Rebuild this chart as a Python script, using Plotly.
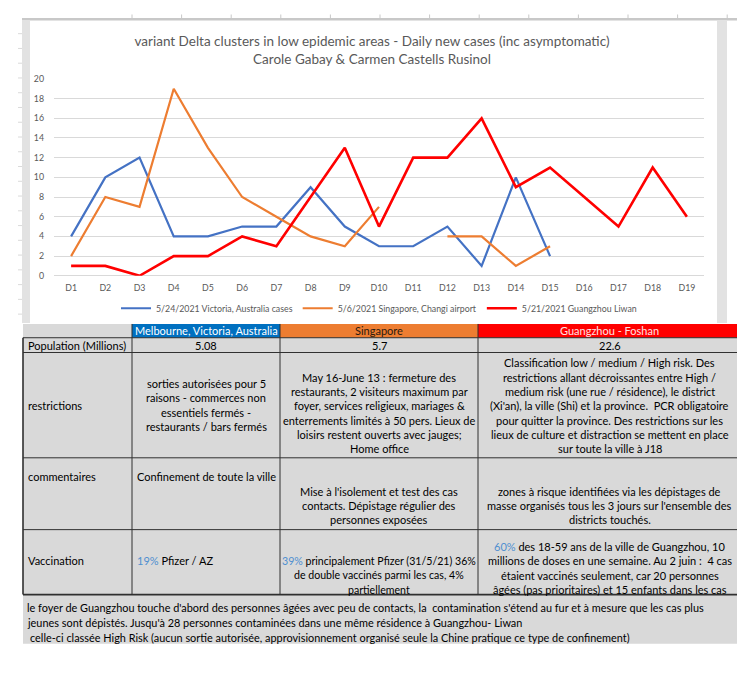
import plotly.graph_objects as go

# reference picture size and the page's default 8px body margin
REF_W, REF_H = 745, 697
OFF = 8
W, H = REF_W - OFF, REF_H - OFF

# ---------------- data ----------------
days = ["D1", "D2", "D3", "D4", "D5", "D6", "D7", "D8", "D9", "D10",
        "D11", "D12", "D13", "D14", "D15", "D16", "D17", "D18", "D19"]
victoria = [4, 10, 12, 4, 4, 5, 5, 9, 5, 3, 3, 5, 1, 10, 2, None, None, None, None]
singapore = [2, 8, 7, 19, 13, 8, 6, 4, 3, 7, None, 4, 4, 1, 3, None, None, None, None]
guangzhou = [1, 1, 0, 2, 2, 4, 3, 8, 13, 5, 12, 12, 16, 9, 11, 8, 5, 11, 6]
series_names = ["5/24/2021 Victoria, Australia cases",
                "5/6/2021 Singapore, Changi airport",
                "5/21/2021 Guangzhou Liwan"]
y_tickvals = [0, 2, 4, 6, 8, 10, 12, 14, 16, 18, 20]

title_lines = ["variant Delta clusters in low epidemic areas - Daily new cases (inc asymptomatic)",
               "Carole Gabay & Carmen Castells Rusinol"]

header_names = ["Melbourne, Victoria, Australia", "Singapore", "Guangzhou - Foshan"]
row_labels = ["Population (Millions)", "restrictions", "commentaires", "Vaccination"]
population = ["5.08", "5.7", "22.6"]
restrictions = [
    ["sorties autorisées pour 5", "raisons - commerces non", "essentiels fermés -",
     "restaurants / bars fermés"],
    ["May 16-June 13 : fermeture des", "restaurants, 2 visiteurs maximum par",
     "foyer, services religieux, mariages &", "enterrements limités à 50 pers. Lieux de",
     "loisirs restent ouverts avec jauges;", "Home office"],
    ["Classification low / medium / High risk. Des",
     "restrictions allant décroissantes entre High /",
     "medium risk (une rue / résidence), le district",
     "(Xi'an), la ville (Shi) et la province.  PCR obligatoire",
     "pour quitter la province. Des restrictions sur les",
     "lieux de culture et distraction se mettent en place",
     "sur toute la ville à J18"],
]
commentaires = [
    ["Confinement de toute la ville"],
    ["Mise à l'isolement et test des cas", "contacts. Dépistage régulier des",
     "personnes exposées"],
    ["zones à risque identifiées via les dépistages de",
     "masse organisés tous les 3 jours sur l'ensemble des",
     "districts touchés."],
]
PCT = "<span style='color:#4F8FD0'>{}</span>"
vaccination = [
    [PCT.format("19%") + " Pfizer / AZ"],
    [PCT.format("39%") + " principalement Pfizer (31/5/21) 36%",
     "de double vaccinés parmi les cas, 4%", "partiellement"],
    [PCT.format("60%") + " des 18-59 ans de la ville de Guangzhou, 10",
     "millions de doses en une semaine. Au 2 juin :  4 cas",
     "étaient vaccinés seulement, car 20 personnes",
     "âgées (pas prioritaires) et 15 enfants dans les cas"],
]
notes = [
    "le foyer de Guangzhou touche d'abord des personnes âgées avec peu de contacts, la  contamination s'étend au fur et à mesure que les cas plus",
    "jeunes sont dépistés. Jusqu'à 28 personnes contaminées dans une même résidence à Guangzhou- Liwan",
    "celle-ci classée High Risk (aucun sortie autorisée, approvisionnement organisé seule la Chine pratique ce type de confinement)",
]

# ---------------- styling / layout constants ----------------
FONT = "Lato"
GREY_TXT = "#595959"
line_colors = ["#4472C4", "#ED7D31", "#FF0000"]
line_widths = [2.2, 2.2, 2.6]
header_fills = ["#0070C0", "#ED7D31", "#FF0000"]
header_text_colors = ["#FFFFFF", "#2B1A10", "#FFE3E3"]
CELL_BG = "#D9D9D9"
BORDER = "#303030"


def X(px):
    return (px - OFF) / W


def Y(py):
    return 1 - (py - OFF) / H


col_x = [23, 132, 280, 478, 741]
row_y = [323, 337, 352, 459, 532, 598]
last_line_y = {2: 450, 3: 522, 4: 593}
notes_bottom = 648
LS = 14.6    # text line spacing (px)
TFS = 11.0   # table font size
NFS = 10.9   # notes font size

fig = go.Figure()
for name, vals, c, w in zip(series_names, [victoria, singapore, guangzhou], line_colors, line_widths):
    fig.add_trace(go.Scatter(x=days, y=vals, name=name, mode="lines",
                             line=dict(color=c, width=w), connectgaps=False))

shapes = []
annotations = []


def rect(x0, y0, x1, y1, fill, layer="below"):
    shapes.append(dict(type="rect", xref="paper", yref="paper", x0=X(x0), x1=X(x1),
                       y0=Y(y1), y1=Y(y0), fillcolor=fill, line=dict(width=0), layer=layer))


def seg(x0, y0, x1, y1, color, width, layer="above"):
    shapes.append(dict(type="line", xref="paper", yref="paper", x0=X(x0), x1=X(x1),
                       y0=Y(y0), y1=Y(y1), line=dict(color=color, width=width), layer=layer))


def text(s, x, y, anchor="center", color="#000000", size=TFS):
    annotations.append(dict(text=s, x=X(x), y=Y(y), xref="paper", yref="paper",
                            xanchor=anchor, yanchor="middle", showarrow=False,
                            font=dict(family=FONT, size=size, color=color)))


# spreadsheet frame around the chart
rect(22, 12, 745, 14.5, "#C8C8C8")
for k in range(13):
    xx = 132 + 49.6 * k
    seg(xx, 8.5, xx, 13, "#C8C8C8", 1)
rect(22, 14, 30, 322, "#E2E2E2")
rect(717, 14, 727, 322, "#E2E2E2")
for yy in range(28, 322, 15):
    seg(18, yy, 22, yy, "#DADADA", 1)

# table background
rect(col_x[0], row_y[0], col_x[-1], row_y[-1], CELL_BG)
rect(col_x[0], row_y[-1], col_x[-1], notes_bottom, CELL_BG)
for i in range(3):
    rect(col_x[i + 1], row_y[0], col_x[i + 2], row_y[1], header_fills[i])

# borders
for yy in row_y[1:-1]:
    seg(col_x[0], yy, col_x[-1], yy, BORDER, 1)
seg(col_x[0], row_y[-1], col_x[-1], row_y[-1], BORDER, 1.6)
seg(col_x[0], row_y[1], col_x[0], row_y[-1], BORDER, 1.6)
for xx in col_x[1:-1]:
    seg(xx, row_y[0], xx, row_y[-1], BORDER, 1)
seg(col_x[-1], row_y[0], col_x[-1], row_y[-1], BORDER, 1.6)

centers = [(col_x[i + 1] + col_x[i + 2]) / 2 for i in range(3)]
LX = col_x[0] + 2.5

# header row
for i in range(3):
    text(header_names[i], centers[i], (row_y[0] + row_y[1]) / 2, color=header_text_colors[i])


def block(lines, x, anchor, y_first, size=TFS):
    for j, s in enumerate(lines):
        text(s, x, y_first + j * LS, anchor=anchor, size=size)


def bottom_first(lines, r):
    return last_line_y[r] - (len(lines) - 1) * LS


def middle_first(lines, r):
    return (row_y[r] + row_y[r + 1]) / 2 - (len(lines) - 1) * LS / 2


# population
yy = (row_y[1] + row_y[2]) / 2
text(row_labels[0], LX, yy, anchor="left")
for i in range(3):
    text(population[i], centers[i], yy)

# restrictions
text(row_labels[1], LX, middle_first([0], 2), anchor="left")
block(restrictions[0], centers[0], "center", middle_first(restrictions[0], 2))
for i in (1, 2):
    block(restrictions[i], centers[i], "center", bottom_first(restrictions[i], 2))

# commentaires
yc = bottom_first(commentaires[1], 3) - LS
text(row_labels[2], LX, yc, anchor="left")
block(commentaires[0], centers[0], "center", yc)
for i in (1, 2):
    block(commentaires[i], centers[i], "center", bottom_first(commentaires[i], 3))

# vaccination
yv = bottom_first(vaccination[1], 4)
text(row_labels[3], LX, yv, anchor="left")
block(vaccination[0], col_x[1] + 2.5, "left", yv)
block(vaccination[1], centers[1], "center", bottom_first(vaccination[1], 4), size=10.6)
block(vaccination[2], centers[2], "center", bottom_first(vaccination[2], 4))

# notes
for j, s in enumerate(notes):
    text(s, col_x[0] + 2 + (2.5 if j == 2 else 0), 611 + j * 15.5, anchor="left", size=NFS)

fig.update_layout(
    width=W, height=H,
    margin=dict(l=0, r=0, t=0, b=0),
    paper_bgcolor="white", plot_bgcolor="white",
    font=dict(family=FONT, color=GREY_TXT),
    title=dict(text="<br>".join(title_lines), x=X(372), xanchor="center",
               y=Y(46), yanchor="top", yref="container",
               font=dict(family=FONT, size=13.5, color=GREY_TXT)),
    xaxis=dict(domain=[X(54), X(704)], type="category", categoryorder="array",
               categoryarray=days, range=[-0.5, 18.5], showgrid=False, showline=False,
               zeroline=False, ticks="", ticklabelstandoff=5,
               tickfont=dict(family=FONT, size=8.8, color=GREY_TXT)),
    yaxis=dict(domain=[Y(274), Y(74)], range=[0, 20], tickvals=y_tickvals,
               showgrid=True, gridcolor="#D9D9D9", gridwidth=1, zeroline=True,
               zerolinecolor="#D9D9D9", zerolinewidth=1, showline=False, ticks="",
               ticklabelstandoff=9,
               tickfont=dict(family=FONT, size=8.8, color=GREY_TXT)),
    legend=dict(orientation="h", x=X(379), xanchor="center", y=Y(307), yanchor="middle",
                font=dict(family=FONT, size=8.8, color=GREY_TXT), bgcolor="rgba(0,0,0,0)",
                itemwidth=30, tracegroupgap=0),
    shapes=shapes,
    annotations=annotations,
    showlegend=True,
)

fig.write_html("out.html")
